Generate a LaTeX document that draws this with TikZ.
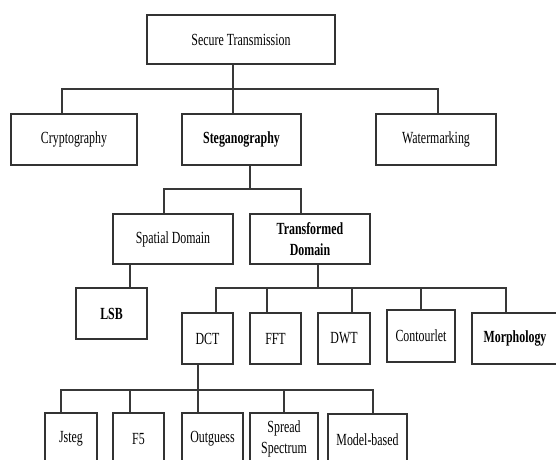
\documentclass[tikz,border=0pt]{standalone}
\usepackage{fontspec}
\setmainfont[FakeStretch=0.70]{Liberation Serif}
\begin{document}
\begin{tikzpicture}[x=1pt,y=-1pt,
  box/.style={draw=black!80,line width=1.3pt,fill=white,inner sep=0pt,align=center,
    font=\fontsize{17}{21.5}\selectfont,text=black},
  bbox/.style={box,font=\fontsize{17}{21.5}\selectfont\bfseries},
  link/.style={draw=black!78,line width=1.2pt}]
\clip (0,0) rectangle (556,459);
\fill[white] (0,0) rectangle (556,459);
% level 0
\node[box,minimum width=188pt,minimum height=49pt] (top) at (241,39.5) {Secure Transmission};
% level 1
\node[box,minimum width=126pt,minimum height=51pt] (crypto) at (74,139.5) {Cryptography};
\node[bbox,minimum width=119pt,minimum height=51pt] (stego) at (241.5,139.5) {Steganography};
\node[box,minimum width=120pt,minimum height=51pt] (water) at (436,139.5) {Watermarking};
% level 2
\node[box,minimum width=120pt,minimum height=50pt] (spatial) at (173,239) {Spatial Domain};
\node[bbox,minimum width=120pt,minimum height=50pt] (trans) at (310,239) {Transformed\\Domain};
% level 3
\node[bbox,minimum width=71pt,minimum height=51pt] (lsb) at (111.5,313.5) {LSB};
\node[box,minimum width=51pt,minimum height=51pt] (dct) at (207.5,338.5) {DCT};
\node[box,minimum width=51pt,minimum height=51pt] (fft) at (275.5,338.5) {FFT};
\node[box,minimum width=52pt,minimum height=51pt] (dwt) at (344,338.5) {DWT};
\node[box,minimum width=68pt,minimum height=52pt] (cont) at (421,336) {Contourlet};
\node[bbox,minimum width=86pt,minimum height=51pt] (morph) at (515,338.5) {Morphology};
% level 4
\node[box,minimum width=52pt,minimum height=52pt] (jsteg) at (71,439) {Jsteg};
\node[box,minimum width=51pt,minimum height=52pt] (f5) at (138.5,439) {F5};
\node[box,minimum width=61pt,minimum height=52pt] (outg) at (212.5,439) {Outguess};
\node[box,minimum width=68pt,minimum height=52pt] (spread) at (284,439) {Spread\\Spectrum};
\node[box,minimum width=79pt,minimum height=52pt] (model) at (367.5,440) {Model-based};
% junctions
\coordinate (j1) at (233,89);
\coordinate (j2) at (250,189);
\coordinate (j3) at (318,288);
\coordinate (j4) at (198,390);
% connectors
\draw[link] (top.south -| j1) -- (j1);
\draw[link] ([xshift=-12pt]crypto.north) |- (j1);
\draw[link] ([xshift=-8.5pt]stego.north) -- ([xshift=-8.5pt]stego.north |- j1);
\draw[link] ([xshift=2pt]water.north) |- (j1);
\draw[link] (stego.south -| j2) -- (j2);
\draw[link] ([xshift=-9pt]spatial.north) |- (j2);
\draw[link] ([xshift=-9pt]trans.north) |- (j2);
\draw[link] ([xshift=-43pt]spatial.south) -- ([xshift=18.5pt]lsb.north);
\draw[link] (trans.south -| j3) -- (j3);
\draw[link] ([xshift=8.5pt]dct.north) |- (j3);
\draw[link] ([xshift=-8.5pt]fft.north) |- (j3);
\draw[link] ([xshift=8pt]dwt.north) |- (j3);
\draw[link] (cont.north) |- (j3);
\draw[link] ([xshift=-9pt]morph.north) |- (j3);
\draw[link] (dct.south -| j4) -- (j4);
\draw[link] ([xshift=-10pt]jsteg.north) |- (j4);
\draw[link] ([xshift=-8.5pt]f5.north) |- (j4);
\draw[link] ([xshift=-14.5pt]outg.north) |- (j4);
\draw[link] (spread.north) |- (j4);
\draw[link] ([xshift=5.5pt]model.north) |- (j4);
\end{tikzpicture}
\end{document}
